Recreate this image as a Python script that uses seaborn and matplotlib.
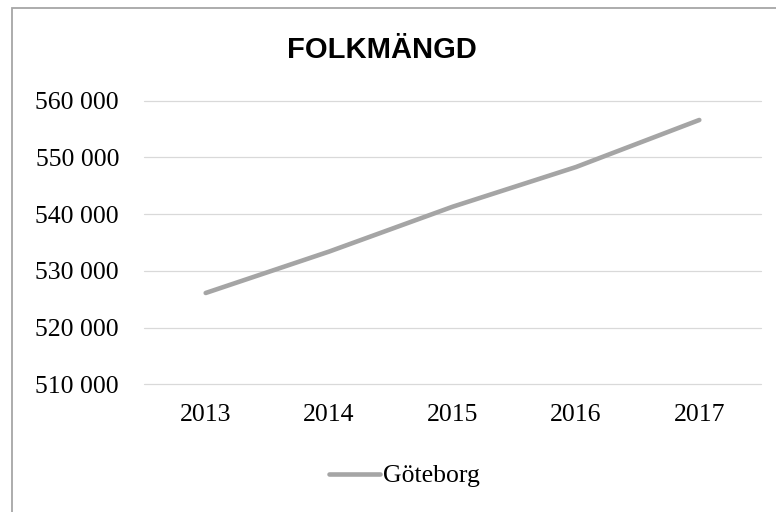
import matplotlib
matplotlib.use("Agg")
import matplotlib.pyplot as plt
import matplotlib.ticker as mticker
from matplotlib.patches import Rectangle
import seaborn as sns
import pandas as pd

# Data
years = ["2013", "2014", "2015", "2016", "2017"]
population = [526100, 533400, 541300, 548300, 556600]
series_name = "Göteborg"

df = pd.DataFrame({"year": years, "folkmangd": population, "kommun": series_name})

sns.set_style("white")
serif = ["Liberation Serif", "DejaVu Serif"]

fig = plt.figure(figsize=(7.76, 5.12), dpi=100)
ax = fig.add_axes([144 / 776, 1 - 384.3 / 512, 617 / 776, (384.3 - 100.7) / 512])

sns.lineplot(data=df, x="year", y="folkmangd", hue="kommun",
             palette=["#a5a5a5"], linewidth=3.3, ax=ax,
             solid_capstyle="round", legend=False)

ax.set_xlim(-0.5, len(years) - 0.5)
ax.set_ylim(510000, 560000)
ax.yaxis.set_major_locator(mticker.MultipleLocator(10000))
ax.yaxis.set_major_formatter(mticker.FuncFormatter(lambda v, p: f"{int(v):,}".replace(",", " ")))
ax.grid(axis="y", color="#d9d9d9", linewidth=0.9)
ax.set_axisbelow(True)
for gl in ax.yaxis.get_gridlines():
    gl.set_clip_on(False)
for s in ax.spines.values():
    s.set_visible(False)
ax.tick_params(axis="y", length=0, pad=18)
ax.tick_params(axis="x", length=0, pad=14)
for lbl in ax.get_xticklabels() + ax.get_yticklabels():
    lbl.set_family(serif)
    lbl.set_fontsize(18.5)
    lbl.set_color("black")
ax.set_xlabel("")
ax.set_ylabel("")

# title
fig.text(382 / 776, 1 - 50 / 512, "FOLKMÄNGD", ha="center", va="center", color="black",
         fontsize=21, fontweight="bold", family=["Liberation Sans", "DejaVu Sans"])

# legend below
leg_line, = ax.plot([], [], color="#a5a5a5", linewidth=3.3, solid_capstyle="round")
leg = fig.legend([leg_line], [series_name], loc="center", bbox_to_anchor=(404 / 776, 1 - 476 / 512),
                 frameon=False, handlelength=2.0, handletextpad=0.1,
                 prop={"family": serif, "size": 18.5})
for t in leg.get_texts():
    t.set_color("black")

# outer border of the chart area
fig.patches.append(Rectangle((12 / 776, -0.1), 1.2, 1.1 - 7.5 / 512, transform=fig.transFigure,
                             fill=False, edgecolor="#a6a6a6", linewidth=1.3))

fig.savefig("out.png", dpi=100)
